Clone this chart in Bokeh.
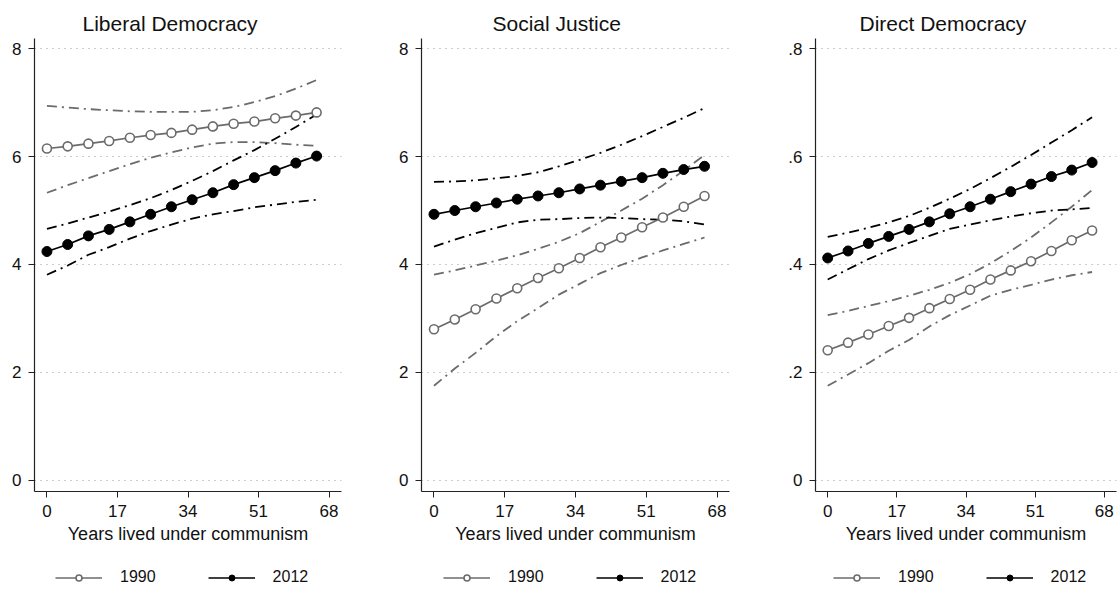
from bokeh.plotting import figure
from bokeh.layouts import row, column
from bokeh.models import (FixedTicker, Range1d, Legend, LegendItem,
                          CustomJSTickFormatter)
from bokeh.embed import file_html
from bokeh.resources import INLINE

# Years lived under communism (prediction points)
years = [0, 5, 10, 15, 20, 25, 30, 35, 40, 45, 50, 55, 60, 65]

# Liberal Democracy
ld_1990 = [6.15, 6.19, 6.24, 6.29, 6.35, 6.40, 6.44, 6.50, 6.56, 6.61, 6.65, 6.71, 6.76, 6.82]
ld_1990_lo = [5.33, 5.47, 5.60, 5.73, 5.86, 5.98, 6.08, 6.17, 6.24, 6.27, 6.27, 6.25, 6.22, 6.20]
ld_1990_hi = [6.94, 6.91, 6.88, 6.86, 6.84, 6.83, 6.83, 6.83, 6.86, 6.92, 7.01, 7.12, 7.26, 7.42]
ld_2012 = [4.24, 4.37, 4.53, 4.65, 4.79, 4.93, 5.07, 5.20, 5.33, 5.48, 5.61, 5.74, 5.88, 6.01]
ld_2012_lo = [3.81, 3.98, 4.18, 4.32, 4.48, 4.62, 4.74, 4.85, 4.93, 4.99, 5.06, 5.11, 5.16, 5.20]
ld_2012_hi = [4.66, 4.76, 4.87, 4.98, 5.10, 5.23, 5.38, 5.55, 5.73, 5.93, 6.12, 6.33, 6.55, 6.78]

# Social Justice
sj_1990 = [2.80, 2.98, 3.17, 3.37, 3.56, 3.75, 3.93, 4.12, 4.32, 4.50, 4.69, 4.87, 5.07, 5.27]
sj_1990_lo = [1.75, 2.07, 2.36, 2.67, 2.95, 3.19, 3.44, 3.64, 3.84, 3.99, 4.13, 4.26, 4.38, 4.50]
sj_1990_hi = [3.81, 3.89, 3.98, 4.07, 4.17, 4.29, 4.42, 4.58, 4.79, 5.00, 5.22, 5.47, 5.74, 6.03]
sj_2012 = [4.93, 5.00, 5.07, 5.14, 5.21, 5.27, 5.33, 5.40, 5.47, 5.54, 5.61, 5.69, 5.76, 5.82]
sj_2012_lo = [4.33, 4.46, 4.58, 4.68, 4.78, 4.83, 4.84, 4.86, 4.87, 4.86, 4.84, 4.83, 4.80, 4.74]
sj_2012_hi = [5.53, 5.54, 5.56, 5.60, 5.64, 5.71, 5.82, 5.94, 6.07, 6.22, 6.38, 6.55, 6.72, 6.90]

# Direct Democracy
dd_1990 = [0.241, 0.255, 0.270, 0.286, 0.301, 0.319, 0.336, 0.353, 0.372, 0.389, 0.406, 0.425, 0.445, 0.463]
dd_1990_lo = [0.175, 0.196, 0.217, 0.240, 0.260, 0.285, 0.306, 0.324, 0.342, 0.353, 0.362, 0.372, 0.380, 0.386]
dd_1990_hi = [0.306, 0.314, 0.323, 0.332, 0.342, 0.353, 0.366, 0.382, 0.402, 0.425, 0.450, 0.478, 0.507, 0.538]
dd_2012 = [0.412, 0.425, 0.439, 0.452, 0.465, 0.479, 0.494, 0.507, 0.521, 0.535, 0.549, 0.563, 0.575, 0.589]
dd_2012_lo = [0.372, 0.391, 0.410, 0.426, 0.440, 0.453, 0.466, 0.474, 0.482, 0.489, 0.495, 0.500, 0.502, 0.505]
dd_2012_hi = [0.451, 0.459, 0.468, 0.478, 0.490, 0.505, 0.522, 0.540, 0.560, 0.581, 0.603, 0.626, 0.649, 0.673]

x_ticks = [0, 17, 34, 51, 68]
y_ticks_score = [0, 2, 4, 6, 8]
y_ticks_share = [0, 0.2, 0.4, 0.6, 0.8]
series_labels = ["1990", "2012"]

FONT = "Liberation Sans"
GRAY = "#6b6b6b"
CI_DASH = "10 5 2 5"
STYLE_1990 = dict(line=dict(line_color=GRAY, line_width=1.7),
                  marker=dict(marker="circle", line_color=GRAY, line_width=1.6,
                              fill_color="white"))
STYLE_2012 = dict(line=dict(line_color="black", line_width=1.7),
                  marker=dict(marker="circle", line_color="black",
                              fill_color="black"))
NAN = float("nan")


def make_panel(title, title_offset, mean90, lo90, hi90, mean12, lo12, hi12,
               y_ticks, scale, border_left, frame_w, border_right):
    p = figure(frame_width=frame_w, frame_height=453,
               output_backend="svg", toolbar_location=None,
               x_range=Range1d(-3.0, 71.0),
               y_range=Range1d(-0.21 * scale, 8.19 * scale),
               min_border_left=border_left, min_border_right=border_right,
               min_border_top=38, min_border_bottom=62)
    p.outline_line_color = None
    p.background_fill_color = "white"

    p.title.text = title
    p.title.text_font = FONT
    p.title.text_font_size = "21px"
    p.title.text_font_style = "normal"
    p.title.text_color = "#111111"
    p.title.align = "left"
    p.title.offset = title_offset
    p.title.standoff = 8

    # confidence bounds
    for ys in (lo90, hi90):
        p.line(years, ys, line_color=GRAY, line_width=1.8, line_dash=CI_DASH)
    for ys in (lo12, hi12):
        p.line(years, ys, line_color="black", line_width=1.8, line_dash=CI_DASH)

    # predicted values
    p.line(years, mean90, **STYLE_1990["line"])
    p.scatter(years, mean90, size=9, **STYLE_1990["marker"])
    p.line(years, mean12, **STYLE_2012["line"])
    p.scatter(years, mean12, size=10, **STYLE_2012["marker"])

    p.xaxis.ticker = FixedTicker(ticks=x_ticks)
    p.yaxis.ticker = FixedTicker(ticks=y_ticks)
    if scale != 1:
        p.yaxis.formatter = CustomJSTickFormatter(
            code="return tick == 0 ? '0' : tick.toFixed(1).replace(/^0/, '');")
    p.xaxis.axis_label = "Years lived under communism"
    for ax in (p.xaxis[0], p.yaxis[0]):
        ax.axis_line_color = "#222222"
        ax.axis_line_width = 1.2
        ax.major_tick_line_color = "#222222"
        ax.major_tick_out = 6
        ax.major_tick_in = 0
        ax.minor_tick_line_color = None
        ax.major_label_text_font = FONT
        ax.major_label_text_font_size = "17px"
        ax.major_label_text_color = "#111111"
        ax.major_label_standoff = 7
        ax.axis_label_text_font = FONT
        ax.axis_label_text_font_size = "18px"
        ax.axis_label_text_font_style = "normal"
        ax.axis_label_text_color = "#111111"
        ax.axis_label_standoff = 4
    p.yaxis.major_label_orientation = "horizontal"

    p.xgrid.grid_line_color = None
    p.ygrid.ticker = FixedTicker(ticks=y_ticks)
    p.ygrid.grid_line_color = "#9a9a9a"
    p.ygrid.grid_line_width = 1
    p.ygrid.grid_line_dash = "1 5"
    return p


def make_key(legend_x):
    """Strip under a panel holding the 1990 / 2012 key."""
    k = figure(width=373, height=36, output_backend="svg",
               toolbar_location=None, min_border=0,
               x_range=Range1d(0, 1), y_range=Range1d(0, 1))
    k.axis.visible = False
    k.grid.visible = False
    k.outline_line_color = None
    items = []
    for label, style in zip(series_labels, (STYLE_1990, STYLE_2012)):
        # style-only renderers (no drawable points) that feed the key glyphs
        lr = k.line([NAN], [NAN], **style["line"])
        sr = k.scatter([NAN], [NAN], size=6, **style["marker"])
        items.append(LegendItem(label=label, renderers=[lr, sr]))
    legend = Legend(items=items, orientation="horizontal",
                    location=(legend_x, 3),
                    glyph_width=47, glyph_height=15, label_standoff=18,
                    spacing=52, padding=0, margin=0,
                    border_line_color=None, background_fill_alpha=0,
                    label_text_font=FONT, label_text_font_size="16px",
                    label_text_color="#111111")
    k.add_layout(legend, "center")
    return k


p1 = make_panel("Liberal Democracy", 48, ld_1990, ld_1990_lo, ld_1990_hi,
                ld_2012, ld_2012_lo, ld_2012_hi, y_ticks_score, 1, 34, 307, 32)
p2 = make_panel("Social Justice", 71, sj_1990, sj_1990_lo, sj_1990_hi,
                sj_2012, sj_2012_lo, sj_2012_hi, y_ticks_score, 1, 48, 308, 17)
p3 = make_panel("Direct Democracy", 44, dd_1990, dd_1990_lo, dd_1990_hi,
                dd_2012, dd_2012_lo, dd_2012_hi, y_ticks_share, 0.1, 69, 301, 3)

layout = column(row(p1, p2, p3), row(make_key(55), make_key(70), make_key(87)))
open("out.html", "w").write(file_html(layout, INLINE))
